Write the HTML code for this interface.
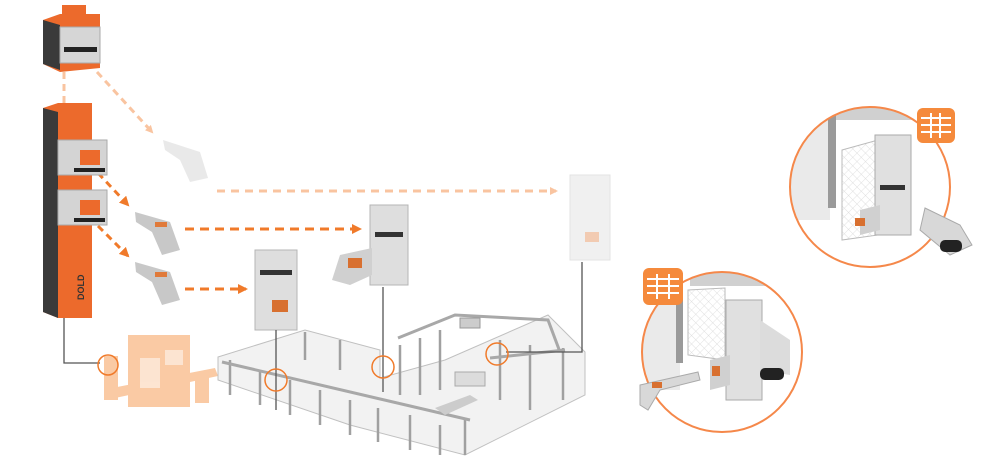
<!DOCTYPE html>
<html><head><meta charset="utf-8"><style>
html,body{margin:0;padding:0;background:#fff;width:1000px;height:463px;overflow:hidden}
svg{display:block}
</style></head><body>
<svg width="1000" height="463" viewBox="0 0 1000 463" xmlns="http://www.w3.org/2000/svg">
<defs>
<marker id="ap" markerWidth="8" markerHeight="8" refX="6" refY="4" orient="auto" markerUnits="userSpaceOnUse"><path d="M0,0 L8,4 L0,8 z" fill="#f9c4a0"/></marker>
<marker id="ao" markerWidth="10" markerHeight="10" refX="8" refY="5" orient="auto" markerUnits="userSpaceOnUse"><path d="M0,0 L10,5 L0,10 z" fill="#f07a2a"/></marker>
<pattern id="mesh" width="6" height="6" patternUnits="userSpaceOnUse" patternTransform="rotate(45)"><path d="M0,0 V6 M0,0 H6" stroke="#d8d8d8" stroke-width="0.7"/></pattern>
<clipPath id="c1"><circle cx="870" cy="187" r="80"/></clipPath>
<clipPath id="c2"><circle cx="722" cy="352" r="80"/></clipPath>
</defs>

<line x1="64" y1="72" x2="64" y2="103" stroke="#f9c4a0" stroke-width="3" stroke-dasharray="7,5"/>
<line x1="97" y1="72" x2="152" y2="132" stroke="#f9c4a0" stroke-width="3" stroke-dasharray="7,5" marker-end="url(#ap)"/>
<line x1="217" y1="191" x2="556" y2="191" stroke="#f9c4a0" stroke-width="3" stroke-dasharray="8,6" marker-end="url(#ap)"/>
<line x1="98" y1="173" x2="128" y2="205" stroke="#f07a2a" stroke-width="3" stroke-dasharray="7,5" marker-end="url(#ao)"/>
<line x1="98" y1="226" x2="128" y2="256" stroke="#f07a2a" stroke-width="3" stroke-dasharray="7,5" marker-end="url(#ao)"/>
<line x1="185" y1="229" x2="360" y2="229" stroke="#f07a2a" stroke-width="3" stroke-dasharray="9,6" marker-end="url(#ao)"/>
<line x1="185" y1="289" x2="246" y2="289" stroke="#f07a2a" stroke-width="3" stroke-dasharray="9,6" marker-end="url(#ao)"/>

<rect x="62" y="5" width="24" height="12" fill="#ec6a2c"/>
<polygon points="43,20 60,14 100,14 100,68 60,72 43,64" fill="#ec6a2c"/>
<polygon points="43,20 60,25 60,70 43,64" fill="#3a3a3a"/>
<rect x="60" y="27" width="40" height="36" fill="#d6d6d6" stroke="#aaa"/>
<rect x="64" y="47" width="33" height="5" fill="#222"/>

<polygon points="43,108 58,103 92,103 92,318 58,318 43,312" fill="#ec6a2c"/>
<polygon points="43,108 58,112 58,318 43,312" fill="#3a3a3a"/>
<rect x="58" y="140" width="49" height="35" fill="#d4d4d4" stroke="#aaa"/>
<rect x="80" y="150" width="20" height="15" fill="#ec6a2c"/>
<rect x="74" y="168" width="31" height="4" fill="#222"/>
<rect x="58" y="190" width="49" height="35" fill="#d4d4d4" stroke="#aaa"/>
<rect x="80" y="200" width="20" height="15" fill="#ec6a2c"/>
<rect x="74" y="218" width="31" height="4" fill="#222"/>
<text x="0" y="0" transform="translate(84,300) rotate(-90)" font-family="Liberation Sans,sans-serif" font-size="9" font-weight="bold" fill="#333">DOLD</text>

<g opacity="0.45"><polygon points="163,140 200,152 208,178 190,182 180,160 165,150" fill="#cfcfcf"/></g>
<polygon points="135,212 170,222 180,250 162,255 152,232 136,222" fill="#c8c8c8"/>
<rect x="155" y="222" width="12" height="5" fill="#e07a3a"/>
<polygon points="135,262 170,272 180,300 162,305 152,282 136,272" fill="#c8c8c8"/>
<rect x="155" y="272" width="12" height="5" fill="#e07a3a"/>

<rect x="255" y="250" width="42" height="80" fill="#dedede" stroke="#b5b5b5"/>
<rect x="260" y="270" width="32" height="5" fill="#333"/>
<rect x="272" y="300" width="16" height="12" fill="#d87030"/>
<rect x="370" y="205" width="38" height="80" fill="#dedede" stroke="#b5b5b5"/>
<rect x="375" y="232" width="28" height="5" fill="#333"/>
<polygon points="340,255 372,248 372,275 350,285 332,280" fill="#d0d0d0"/>
<rect x="348" y="258" width="14" height="10" fill="#d87030"/>
<g opacity="0.4"><rect x="570" y="175" width="40" height="85" fill="#dcdcdc" stroke="#bbb"/><rect x="585" y="232" width="14" height="10" fill="#e08040"/></g>

<g opacity="0.6" fill="#f7a868">
<rect x="128" y="335" width="62" height="72"/>
<rect x="104" y="356" width="14" height="44"/>
<polygon points="112,388 215,368 218,376 115,398"/>
<rect x="195" y="375" width="14" height="28"/>
</g>
<g fill="#fff" opacity="0.5"><rect x="140" y="358" width="20" height="30"/><rect x="165" y="350" width="18" height="15"/></g>

<polygon points="218,357 305,330 380,350 380,378 445,360 548,315 585,352 585,395 465,455 350,425 218,380" fill="#f2f2f2" stroke="#c0c0c0"/>
<g stroke="#a0a0a0" stroke-width="2.5">
<line x1="230" y1="360" x2="230" y2="395"/><line x1="260" y1="370" x2="260" y2="405"/><line x1="290" y1="380" x2="290" y2="415"/>
<line x1="320" y1="390" x2="320" y2="425"/><line x1="350" y1="400" x2="350" y2="435"/><line x1="378" y1="408" x2="378" y2="442"/>
<line x1="410" y1="415" x2="410" y2="450"/><line x1="440" y1="425" x2="440" y2="455"/><line x1="465" y1="420" x2="465" y2="455"/>
<line x1="400" y1="345" x2="400" y2="395"/><line x1="420" y1="338" x2="420" y2="395"/><line x1="440" y1="330" x2="440" y2="390"/>
<line x1="500" y1="340" x2="500" y2="400"/><line x1="530" y1="345" x2="530" y2="410"/><line x1="563" y1="348" x2="563" y2="400"/>
<line x1="305" y1="332" x2="305" y2="360"/><line x1="340" y1="340" x2="340" y2="370"/>
</g>
<g stroke="#a8a8a8" stroke-width="3" fill="none">
<polyline points="398,338 455,315 548,320 560,352"/>
<line x1="222" y1="362" x2="470" y2="420"/>
<polyline points="490,358 565,350"/>
</g>
<polygon points="435,408 470,395 478,400 445,415" fill="#ccc"/>
<rect x="455" y="372" width="30" height="14" fill="#dcdcdc" stroke="#aaa"/>
<rect x="460" y="318" width="20" height="10" fill="#ccc" stroke="#999"/>

<g stroke="#555" stroke-width="1.3" fill="none">
<polyline points="64,318 64,363 100,363"/>
<line x1="276" y1="330" x2="276" y2="410"/>
<line x1="383" y1="287" x2="383" y2="392"/>
<polyline points="582,262 582,352 506,352"/>
</g>
<g stroke="#f07a2a" stroke-width="1.5" fill="none">
<circle cx="108" cy="365" r="10"/>
<circle cx="276" cy="380" r="11"/>
<circle cx="383" cy="367" r="11"/>
<circle cx="497" cy="354" r="11"/>
</g>

<g clip-path="url(#c1)">
<rect x="780" y="100" width="180" height="180" fill="#fff"/>
<rect x="780" y="110" width="50" height="110" fill="#eaeaea"/>
<rect x="780" y="100" width="180" height="20" fill="#d0d0d0"/>
<rect x="828" y="108" width="8" height="100" fill="#9a9a9a"/>
<polygon points="842,150 878,140 878,235 842,240" fill="url(#mesh)" stroke="#bbb"/>
<rect x="875" y="135" width="36" height="100" fill="#e0e0e0" stroke="#aaa"/>
<rect x="880" y="185" width="25" height="5" fill="#333"/>
<polygon points="860,210 880,205 880,230 860,235" fill="#d0d0d0"/>
<rect x="855" y="218" width="10" height="8" fill="#d87030"/>
</g>
<circle cx="870" cy="187" r="80" fill="none" stroke="#f5884a" stroke-width="2"/>
<polygon points="925,208 960,225 972,245 950,255 920,230" fill="#d8d8d8" stroke="#aaa"/>
<rect x="940" y="240" width="22" height="12" rx="5" fill="#222"/>
<rect x="917" y="108" width="38" height="35" rx="6" fill="#f58a3c"/>
<g stroke="#fff" stroke-width="2"><line x1="921" y1="118" x2="951" y2="118"/><line x1="921" y1="125" x2="951" y2="125"/><line x1="921" y1="132" x2="951" y2="132"/><line x1="931" y1="113" x2="931" y2="138"/><line x1="940" y1="113" x2="940" y2="138"/></g>

<g clip-path="url(#c2)">
<rect x="640" y="270" width="170" height="170" fill="#fff"/>
<rect x="640" y="290" width="40" height="100" fill="#eaeaea"/>
<rect x="690" y="268" width="120" height="18" fill="#d0d0d0"/>
<rect x="676" y="288" width="7" height="75" fill="#9a9a9a"/>
<polygon points="688,290 725,288 725,360 688,355" fill="url(#mesh)" stroke="#bbb"/>
<rect x="726" y="300" width="36" height="100" fill="#e0e0e0" stroke="#aaa"/>
<polygon points="710,360 730,355 730,385 710,390" fill="#d0d0d0"/>
<rect x="712" y="366" width="8" height="10" fill="#d87030"/>
<polygon points="760,320 790,340 790,375 760,370" fill="#dcdcdc"/>
<rect x="760" y="368" width="24" height="12" rx="5" fill="#222"/>
</g>
<circle cx="722" cy="352" r="80" fill="none" stroke="#f5884a" stroke-width="2"/>
<polygon points="640,385 698,372 700,380 660,390 648,410 640,405" fill="#d8d8d8" stroke="#aaa"/>
<rect x="652" y="382" width="10" height="6" fill="#d87030"/>
<rect x="643" y="268" width="40" height="37" rx="6" fill="#f58a3c"/>
<g stroke="#fff" stroke-width="2"><line x1="647" y1="279" x2="679" y2="279"/><line x1="647" y1="286" x2="679" y2="286"/><line x1="647" y1="293" x2="679" y2="293"/><line x1="657" y1="274" x2="657" y2="299"/><line x1="669" y1="274" x2="669" y2="299"/></g>
</svg>
</body></html>
